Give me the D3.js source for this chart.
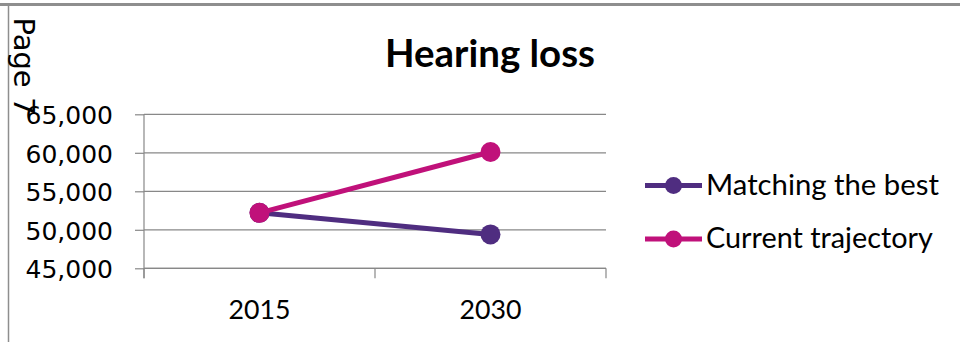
<!DOCTYPE html>
<html>
<head>
<meta charset="utf-8">
<script src="https://cdn.jsdelivr.net/npm/d3@7"></script>
<style>
  html, body { margin: 0; padding: 0; background: #fff; }
  svg { display: block; }
</style>
</head>
<body>
<svg id="chart" width="960" height="342"></svg>
<script>
// Projected hearing loss cases
const years = ["2015", "2030"];
const matchingBest = [52200, 49400];
const currentTrajectory = [52200, 60100];
const seriesNames = ["Matching the best", "Current trajectory"];
const seriesColors = ["#4f2d80", "#c0117a"];
const yTicks = [45000, 50000, 55000, 60000, 65000];
const chartTitle = "Hearing loss";
const pageLabel = "Page 7";

const svg = d3.select("#chart");
const gray = "#888888";

// page frame: top rule and left margin rule
svg.append("rect").attr("x", 0).attr("y", 3).attr("width", 960).attr("height", 3).attr("fill", "#8e8e8e");
svg.append("line").attr("x1", 8.5).attr("x2", 8.5).attr("y1", 6).attr("y2", 342)
  .attr("stroke", "#8e8e8e").attr("stroke-width", 1.5);

// sizes a text so that it spans the given width
function fitWidth(sel, target) {
  sel.attr("font-size", 100);
  const w = sel.node().getComputedTextLength();
  sel.attr("font-size", 100 * target / w);
  return sel;
}

const plot = { left: 144, right: 606, top: 114.3, bottom: 268.3 };

const x = d3.scaleBand().domain(years).range([plot.left, plot.right]);
const y = d3.scaleLinear().domain([45000, 65000]).range([plot.bottom, plot.top]);

// horizontal gridlines
svg.append("g").selectAll("line").data(yTicks).join("line")
  .attr("x1", plot.left).attr("x2", plot.right)
  .attr("y1", d => y(d)).attr("y2", d => y(d))
  .attr("stroke", gray).attr("stroke-width", 1.2);

// y axis
const yAxis = svg.append("g").attr("transform", `translate(${plot.left},0)`)
  .call(d3.axisLeft(y).tickValues(yTicks).tickSize(9).tickPadding(22)
    .tickFormat(d3.format(",")));
yAxis.select(".domain").remove();
yAxis.selectAll(".tick line").attr("stroke", gray).attr("stroke-width", 1.2);
yAxis.selectAll(".tick text")
  .attr("font-family", "DejaVu Sans").attr("font-size", 25).attr("fill", "#000")
  .attr("dy", "0.38em");
svg.append("line").attr("x1", plot.left).attr("x2", plot.left)
  .attr("y1", plot.top).attr("y2", plot.bottom + 10)
  .attr("stroke", gray).attr("stroke-width", 1.2);

// x axis with ticks at category boundaries
svg.append("line").attr("x1", plot.left).attr("x2", plot.right)
  .attr("y1", plot.bottom).attr("y2", plot.bottom)
  .attr("stroke", gray).attr("stroke-width", 1.2);
const bounds = years.map(d => x(d)).concat([plot.right]);
svg.append("g").selectAll("line").data(bounds).join("line")
  .attr("x1", d => d).attr("x2", d => d)
  .attr("y1", plot.bottom).attr("y2", plot.bottom + 10)
  .attr("stroke", gray).attr("stroke-width", 1.2);
const xl = svg.append("g").selectAll("text").data(years).join("text")
  .attr("x", d => x(d) + x.bandwidth() / 2).attr("y", 319)
  .attr("text-anchor", "middle").attr("font-family", "Lato").attr("fill", "#000")
  .text(d => d);
xl.each(function () { fitWidth(d3.select(this), 62); });

// series lines and markers
const series = [matchingBest, currentTrajectory];
const line = d3.line().x((d, i) => x(years[i]) + x.bandwidth() / 2).y(d => y(d));
series.forEach((vals, s) => {
  const g = svg.append("g");
  g.append("path").datum(vals).attr("d", line)
    .attr("fill", "none").attr("stroke", seriesColors[s]).attr("stroke-width", 5);
  g.selectAll("circle").data(vals).join("circle")
    .attr("cx", (d, i) => x(years[i]) + x.bandwidth() / 2).attr("cy", d => y(d))
    .attr("r", 10).attr("fill", seriesColors[s]);
});

// title
const title = svg.append("text").attr("x", 490).attr("y", 66.7)
  .attr("text-anchor", "middle").attr("font-family", "Lato").attr("font-weight", "bold")
  .attr("fill", "#000").text(chartTitle);
fitWidth(title, 210);

// legend
const legendRows = [185.5, 239];
const legendWidths = [233, 227];
seriesNames.forEach((name, s) => {
  const g = svg.append("g").attr("transform", `translate(0,${legendRows[s]})`);
  g.append("line").attr("x1", 645).attr("x2", 702).attr("y1", 0).attr("y2", 0)
    .attr("stroke", seriesColors[s]).attr("stroke-width", 5);
  g.append("circle").attr("cx", 673.5).attr("cy", 0).attr("r", 8.5).attr("fill", seriesColors[s]);
  const t = g.append("text").attr("x", 706).attr("y", 9.3)
    .attr("font-family", "Lato").attr("fill", "#000").text(name);
  fitWidth(t, legendWidths[s]);
});

// running page number, rotated along the left margin
svg.append("text").attr("transform", "translate(14,17.5) rotate(90)")
  .attr("font-family", "DejaVu Sans").attr("font-size", 29).attr("fill", "#000")
  .text(pageLabel);
</script>
</body>
</html>
